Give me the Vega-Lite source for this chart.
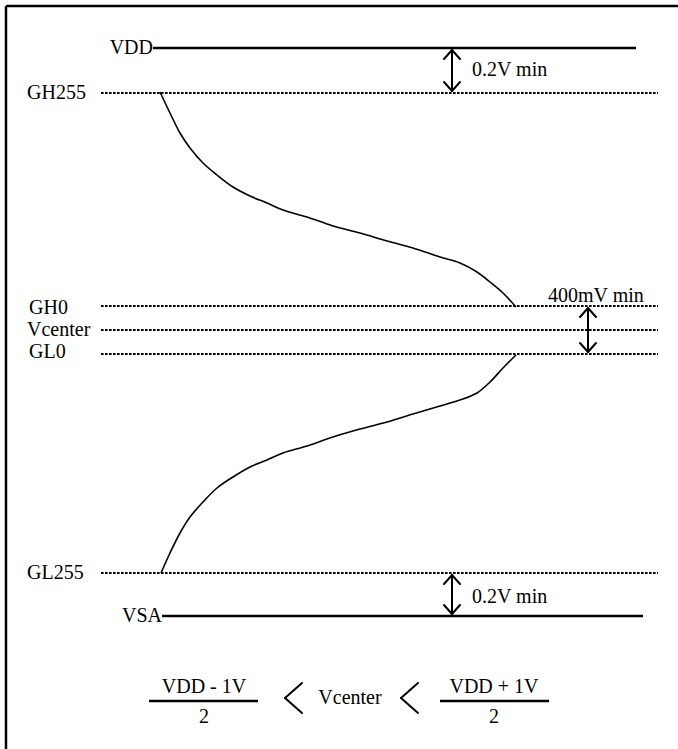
{
  "$schema": "https://vega.github.io/schema/vega-lite/v6.json",
  "width": 678,
  "height": 749,
  "padding": 0,
  "autosize": {"type": "none"},
  "background": "white",
  "config": {"view": {"stroke": null}},
  "datasets": {
    "segs": [
      {"kind": "frame", "x": 6, "y": 6, "x2": 678, "y2": 6},
      {"kind": "frame", "x": 6, "y": 6, "x2": 6, "y2": 749},
      {"kind": "supply", "name": "VDD", "x": 153, "y": 48, "x2": 636, "y2": 48},
      {"kind": "supply", "name": "VSA", "x": 162, "y": 616, "x2": 643, "y2": 616},
      {"kind": "level", "name": "GH255", "x": 101, "y": 93, "x2": 658, "y2": 93},
      {"kind": "level", "name": "GH0", "x": 101, "y": 306, "x2": 658, "y2": 306},
      {"kind": "level", "name": "Vcenter", "x": 101, "y": 330, "x2": 658, "y2": 330},
      {"kind": "level", "name": "GL0", "x": 101, "y": 354, "x2": 658, "y2": 354},
      {"kind": "level", "name": "GL255", "x": 101, "y": 573, "x2": 658, "y2": 573},
      {"kind": "arrow", "x": 452, "y": 50, "x2": 452, "y2": 91},
      {"kind": "arrow", "x": 444, "y": 59, "x2": 452, "y2": 50},
      {"kind": "arrow", "x": 460, "y": 59, "x2": 452, "y2": 50},
      {"kind": "arrow", "x": 444, "y": 82, "x2": 452, "y2": 91},
      {"kind": "arrow", "x": 460, "y": 82, "x2": 452, "y2": 91},
      {"kind": "arrow", "x": 452, "y": 575, "x2": 452, "y2": 614},
      {"kind": "arrow", "x": 444, "y": 584, "x2": 452, "y2": 575},
      {"kind": "arrow", "x": 460, "y": 584, "x2": 452, "y2": 575},
      {"kind": "arrow", "x": 444, "y": 605, "x2": 452, "y2": 614},
      {"kind": "arrow", "x": 460, "y": 605, "x2": 452, "y2": 614},
      {"kind": "arrow", "x": 588, "y": 308, "x2": 588, "y2": 352},
      {"kind": "arrow", "x": 580, "y": 317, "x2": 588, "y2": 308},
      {"kind": "arrow", "x": 596, "y": 317, "x2": 588, "y2": 308},
      {"kind": "arrow", "x": 580, "y": 343, "x2": 588, "y2": 352},
      {"kind": "arrow", "x": 596, "y": 343, "x2": 588, "y2": 352},
      {"kind": "chevron", "x": 302, "y": 683, "x2": 285, "y2": 698},
      {"kind": "chevron", "x": 285, "y": 698, "x2": 302, "y2": 713},
      {"kind": "chevron", "x": 418, "y": 683, "x2": 401, "y2": 698},
      {"kind": "chevron", "x": 401, "y": 698, "x2": 418, "y2": 713},
      {"kind": "bar", "x": 149, "y": 701, "x2": 258, "y2": 701},
      {"kind": "bar", "x": 440, "y": 701, "x2": 549, "y2": 701}
    ],
    "curve": [
      {"branch": "upper", "i": 0, "x": 160, "y": 92},
      {"branch": "upper", "i": 1, "x": 170, "y": 113},
      {"branch": "upper", "i": 2, "x": 180, "y": 133},
      {"branch": "upper", "i": 3, "x": 190, "y": 148},
      {"branch": "upper", "i": 4, "x": 203, "y": 163},
      {"branch": "upper", "i": 5, "x": 217, "y": 175},
      {"branch": "upper", "i": 6, "x": 233, "y": 187},
      {"branch": "upper", "i": 7, "x": 250, "y": 196},
      {"branch": "upper", "i": 8, "x": 267, "y": 203},
      {"branch": "upper", "i": 9, "x": 283, "y": 210},
      {"branch": "upper", "i": 10, "x": 307, "y": 217},
      {"branch": "upper", "i": 11, "x": 333, "y": 226},
      {"branch": "upper", "i": 12, "x": 360, "y": 233},
      {"branch": "upper", "i": 13, "x": 387, "y": 241},
      {"branch": "upper", "i": 14, "x": 413, "y": 248},
      {"branch": "upper", "i": 15, "x": 440, "y": 257},
      {"branch": "upper", "i": 16, "x": 460, "y": 263},
      {"branch": "upper", "i": 17, "x": 477, "y": 272},
      {"branch": "upper", "i": 18, "x": 490, "y": 282},
      {"branch": "upper", "i": 19, "x": 503, "y": 293},
      {"branch": "upper", "i": 20, "x": 516, "y": 307},
      {"branch": "lower", "i": 0, "x": 516, "y": 355},
      {"branch": "lower", "i": 1, "x": 503, "y": 368},
      {"branch": "lower", "i": 2, "x": 490, "y": 382},
      {"branch": "lower", "i": 3, "x": 477, "y": 393},
      {"branch": "lower", "i": 4, "x": 460, "y": 400},
      {"branch": "lower", "i": 5, "x": 440, "y": 406},
      {"branch": "lower", "i": 6, "x": 413, "y": 414},
      {"branch": "lower", "i": 7, "x": 387, "y": 422},
      {"branch": "lower", "i": 8, "x": 360, "y": 429},
      {"branch": "lower", "i": 9, "x": 333, "y": 437},
      {"branch": "lower", "i": 10, "x": 307, "y": 446},
      {"branch": "lower", "i": 11, "x": 283, "y": 453},
      {"branch": "lower", "i": 12, "x": 267, "y": 460},
      {"branch": "lower", "i": 13, "x": 250, "y": 467},
      {"branch": "lower", "i": 14, "x": 233, "y": 477},
      {"branch": "lower", "i": 15, "x": 217, "y": 488},
      {"branch": "lower", "i": 16, "x": 203, "y": 502},
      {"branch": "lower", "i": 17, "x": 190, "y": 517},
      {"branch": "lower", "i": 18, "x": 180, "y": 533},
      {"branch": "lower", "i": 19, "x": 170, "y": 553},
      {"branch": "lower", "i": 20, "x": 161, "y": 573}
    ],
    "texts": [
      {"role": "level", "text": "GH255", "x": 27, "y": 93},
      {"role": "level", "text": "GH0", "x": 29, "y": 308},
      {"role": "level", "text": "Vcenter", "x": 27, "y": 330},
      {"role": "level", "text": "GL0", "x": 29, "y": 352},
      {"role": "level", "text": "GL255", "x": 27, "y": 573},
      {"role": "supply", "text": "VDD", "x": 153, "y": 48},
      {"role": "supply", "text": "VSA", "x": 162, "y": 616},
      {"role": "note", "text": "0.2V min", "x": 472, "y": 70},
      {"role": "note", "text": "0.2V min", "x": 472, "y": 597},
      {"role": "note", "text": "400mV min", "x": 548, "y": 296},
      {"role": "formula", "text": "VDD - 1V", "x": 204, "y": 687},
      {"role": "formula", "text": "2", "x": 204, "y": 717},
      {"role": "formula", "text": "Vcenter", "x": 350, "y": 698},
      {"role": "formula", "text": "VDD + 1V", "x": 494, "y": 687},
      {"role": "formula", "text": "2", "x": 494, "y": 717}
    ]
  },
  "encoding": {
    "x": {"field": "x", "type": "quantitative", "scale": {"domain": [0, 678], "nice": false, "zero": false}, "axis": null},
    "y": {"field": "y", "type": "quantitative", "scale": {"domain": [0, 749], "nice": false, "zero": false, "reverse": true}, "axis": null}
  },
  "layer": [
    {
      "data": {"name": "segs"},
      "transform": [{"filter": "datum.kind === 'frame' || datum.kind === 'supply' || datum.kind === 'bar'"}],
      "mark": {"type": "rule", "color": "black", "strokeWidth": 2.5},
      "encoding": {"x2": {"field": "x2"}, "y2": {"field": "y2"}}
    },
    {
      "data": {"name": "segs"},
      "transform": [{"filter": "datum.kind === 'level'"}],
      "mark": {"type": "rule", "color": "black", "strokeWidth": 2.2, "strokeDash": [2.6, 1.4]},
      "encoding": {"x2": {"field": "x2"}, "y2": {"field": "y2"}}
    },
    {
      "data": {"name": "segs"},
      "transform": [{"filter": "datum.kind === 'arrow' || datum.kind === 'chevron'"}],
      "mark": {"type": "rule", "color": "black", "strokeWidth": 2, "strokeCap": "round"},
      "encoding": {"x2": {"field": "x2"}, "y2": {"field": "y2"}}
    },
    {
      "data": {"name": "curve"},
      "mark": {"type": "line", "color": "black", "strokeWidth": 1.6, "interpolate": "catmull-rom"},
      "encoding": {"detail": {"field": "branch"}, "order": {"field": "i", "type": "quantitative"}}
    },
    {
      "data": {"name": "texts"},
      "transform": [{"filter": "datum.role === 'level' || datum.role === 'note'"}],
      "mark": {"type": "text", "align": "left", "baseline": "middle", "font": "serif", "fontSize": 20, "color": "black"},
      "encoding": {"text": {"field": "text"}}
    },
    {
      "data": {"name": "texts"},
      "transform": [{"filter": "datum.role === 'supply'"}],
      "mark": {"type": "text", "align": "right", "baseline": "middle", "font": "serif", "fontSize": 20, "color": "black"},
      "encoding": {"text": {"field": "text"}}
    },
    {
      "data": {"name": "texts"},
      "transform": [{"filter": "datum.role === 'formula'"}],
      "mark": {"type": "text", "align": "center", "baseline": "middle", "font": "serif", "fontSize": 20, "color": "black"},
      "encoding": {"text": {"field": "text"}}
    }
  ]
}
